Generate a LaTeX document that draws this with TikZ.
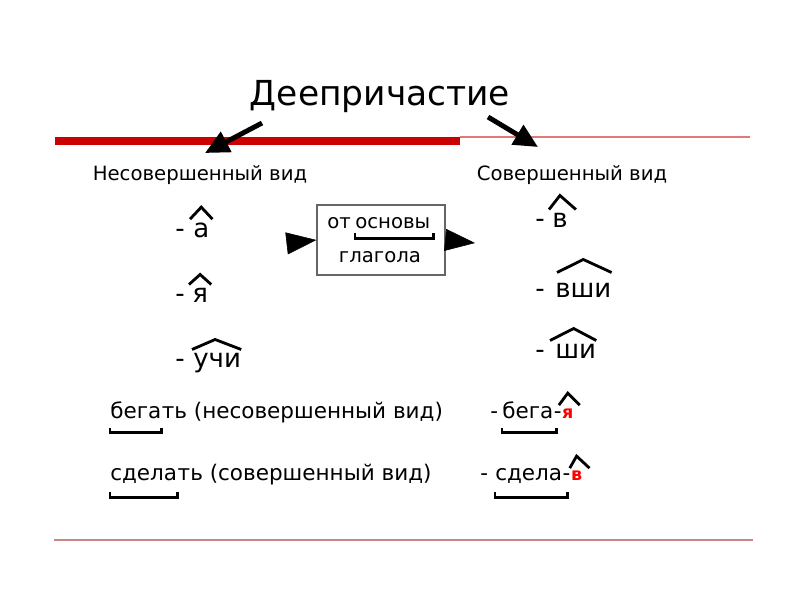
\documentclass[tikz,border=0pt]{standalone}
\usepackage{fontspec}
\setmainfont{DejaVu Sans}
\usetikzlibrary{arrows.meta, positioning}
\definecolor{slidered}{RGB}{204,0,0}
\definecolor{thinred}{RGB}{228,120,120}
\definecolor{linepink}{RGB}{200,135,135}

\begin{document}
\begin{tikzpicture}[x=0.025cm, y=-0.025cm,
    >=Stealth,
    title/.style={font=\fontsize{24.5}{28}\selectfont, anchor=base, inner sep=0pt},
    head/.style={font=\fontsize{14}{16}\selectfont, anchor=base, inner sep=0pt},
    suff/.style={font=\fontsize{18.5}{20}\selectfont, anchor=base west, inner sep=0pt},
    boxtext/.style={font=\fontsize{14}{16}\selectfont, anchor=base west, inner sep=0pt},
    word/.style={font=\fontsize{15.3}{18}\selectfont, anchor=base west, inner sep=0pt},
    redend/.style={font=\fontsize{12.5}{14}\selectfont\bfseries, text=red, anchor=base west, inner sep=0pt},
    hat/.style={line width=2pt, line join=miter},
    root/.style={line width=1.8pt},
    bigarr/.style={line width=3.5pt, -{Triangle[length=0.6cm, width=0.55cm]}},
    boxarr/.style={-{Triangle[length=0.75cm, width=0.55cm]}},
  ]
  \useasboundingbox (0,0) rectangle (800,600);

  % title and rules
  \node[title] (title) at (380,105) {Деепричастие};
  \fill[slidered] (55,137) rectangle (460,145);
  \draw[thinred, line width=0.8pt] (460,137) -- (750,137);
  \draw[linepink, line width=2pt] (54,540) -- (753,540);

  % the two kinds
  \node[head] (nesov) at (200,180) {Несовершенный вид};
  \node[head] (sov) at (572,180) {Совершенный вид};
  \coordinate (ls) at (262,123);
  \coordinate (lt) at (205,153);
  \coordinate (rs) at (488,117);
  \coordinate (rt) at (538,147);
  \draw[bigarr] (ls) -- (lt);
  \draw[bigarr] (rs) -- (rt);

  % left suffixes
  \node[suff] (ld1) at (175,237) {-};
  \node[suff] (la) at (193,237) {а};
  \node[suff] (ld2) at (175,302) {-};
  \node[suff] (lya) at (192,302) {я};
  \node[suff] (ld3) at (175,367) {-};
  \node[suff] (luchi) at (193,367) {учи};
  \draw[hat] ([shift={(-3,-3)}]la.north west) -- ([shift={(0,-15)}]la.north) -- ([shift={(3,-3)}]la.north east);
  \draw[hat] ([shift={(-3,-3)}]lya.north west) -- ([shift={(0,-13)}]lya.north) -- ([shift={(3,-3)}]lya.north east);
  \draw[hat] ([shift={(-1,-3)}]luchi.north west) -- ([shift={(-2,-13)}]luchi.north) -- ([shift={(0,-3)}]luchi.north east);

  % box in the middle
  \node[draw=gray!80!black, line width=0.8pt, minimum width=3.2cm, minimum height=1.75cm] (box) at (381,240) {};
  \node[boxtext] (ot) at (327,228) {от};
  \node[boxtext] (osn) at (355,228) {основы};
  \node[boxtext, anchor=base] (glag) at (380,262) {глагола};
  \draw[root] ([shift={(0,4)}]osn.south west) |- ([shift={(3,10)}]osn.south east) -- ([shift={(3,4)}]osn.south east);
  \coordinate (bl) at (290,243);
  \coordinate (br) at (475,243);
  \draw[boxarr] (bl) -- (box.west);
  \draw[boxarr] (box.east) -- (br);

  % right suffixes
  \node[suff] (rd1) at (535,227) {-};
  \node[suff] (rv) at (552,227) {в};
  \node[suff] (rd2) at (535,297) {-};
  \node[suff] (rvshi) at (555,297) {вши};
  \node[suff] (rd3) at (535,358) {-};
  \node[suff] (rshi) at (555,358) {ши};
  \draw[hat] ([shift={(-3,-3)}]rv.north west) -- ([shift={(0,-17)}]rv.north) -- ([shift={(8,-3)}]rv.north east);
  \draw[hat] ([shift={(2,-10)}]rvshi.north west) -- ([shift={(0,-23)}]rvshi.north) -- ([shift={(0,-10)}]rvshi.north east);
  \draw[hat] ([shift={(-5,-3)}]rshi.north west) -- ([shift={(-2,-15)}]rshi.north) -- ([shift={(0,-3)}]rshi.north east);

  % examples
  \node[word] (beg) at (110,418) {бега};
  \node[word] (begrest) at (beg.base east) {ть (несовершенный вид)};
  \node[word] (sdel) at (110,480) {сдела};
  \node[word] (sdelrest) at (sdel.base east) {ть (совершенный вид)};
  \draw[root] ([shift={(0,9)}]beg.south west) |- ([shift={(0,14)}]beg.south east) -- ([shift={(0,9)}]beg.south east);
  \draw[root] ([shift={(0,9)}]sdel.south west) |- ([shift={(0,14)}]sdel.south east) -- ([shift={(0,9)}]sdel.south east);

  \node[word] (rbd) at (490,418) {-};
  \node[word] (rbeg) at (502,418) {бега};
  \node[word] (rbdash) at (rbeg.base east) {-};
  \node[redend] (rya) at (rbdash.base east) {я};
  \node[word] (rsd) at (480,480) {-};
  \node[word] (rsdel) at (495,480) {сдела};
  \node[word] (rsdash) at (rsdel.base east) {-};
  \node[redend] (rvv) at (rsdash.base east) {в};
  \draw[root] ([shift={(0,9)}]rbeg.south west) |- ([shift={(3,14)}]rbeg.south east) -- ([shift={(3,9)}]rbeg.south east);
  \draw[root] ([shift={(0,9)}]rsdel.south west) |- ([shift={(5,14)}]rsdel.south east) -- ([shift={(5,9)}]rsdel.south east);
  \draw[hat] ([shift={(-3,-3)}]rya.north west) -- ([shift={(0,-15)}]rya.north) -- ([shift={(6,-3)}]rya.north east);
  \draw[hat] ([shift={(-1,-2)}]rvv.north west) -- ([shift={(0,-14)}]rvv.north) -- ([shift={(7,-2)}]rvv.north east);
\end{tikzpicture}
\end{document}
